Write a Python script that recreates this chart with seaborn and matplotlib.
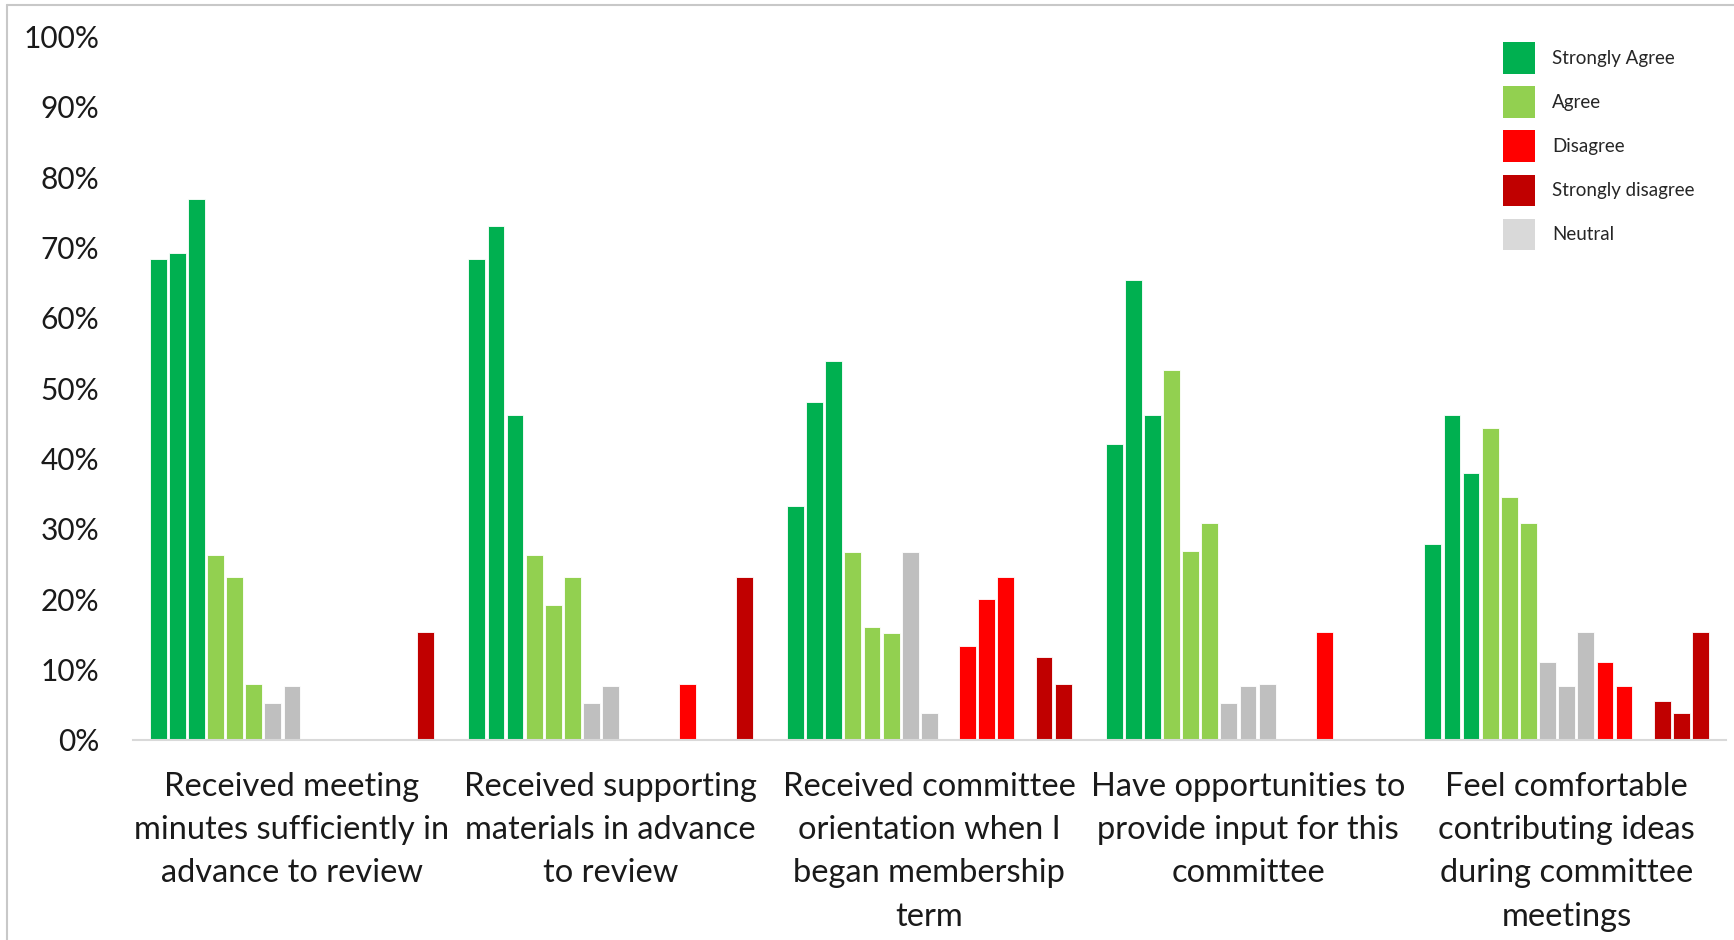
import numpy as np
import pandas as pd
import matplotlib.pyplot as plt
from matplotlib.patches import Patch
from matplotlib.lines import Line2D
from matplotlib.ticker import PercentFormatter
import seaborn as sns

# ── DATA ─────────────────────────────────────────────────────
categories = [
    "Received meeting\nminutes sufficiently in\nadvance to review",
    "Received supporting\nmaterials in advance\nto review",
    "Received committee\norientation when I\nbegan membership\nterm",
    "Have opportunities to\nprovide input for this\ncommittee",
    "Feel comfortable\ncontributing ideas\nduring committee\nmeetings",
]
waves = ["1", "2", "3"]

# percent, one row per category, one column per wave
strongly_agree = [
    [68.4, 69.2, 76.9],
    [68.4, 73.1, 46.2],
    [33.3, 48.0, 53.8],
    [42.1, 65.4, 46.2],
    [27.8, 46.2, 38.0],
]
agree = [
    [26.3, 23.1, 8.0],
    [26.3, 19.2, 23.1],
    [26.7, 16.0, 15.2],
    [52.6, 26.9, 30.8],
    [44.4, 34.6, 30.8],
]
neutral = [
    [5.3, 7.7, 0.0],
    [5.3, 7.7, 0.0],
    [26.7, 3.8, 0.0],
    [5.3, 7.7, 8.0],
    [11.1, 7.7, 15.4],
]
disagree = [
    [0.0, 0.0, 0.0],
    [0.0, 0.0, 8.0],
    [13.3, 20.0, 23.1],
    [0.0, 0.0, 15.4],
    [11.1, 7.7, 0.0],
]
strongly_disagree = [
    [0.0, 0.0, 15.4],
    [0.0, 0.0, 23.1],
    [0.0, 11.8, 8.0],
    [0.0, 0.0, 0.0],
    [5.6, 3.8, 15.4],
]

responses = ["Strongly Agree", "Agree", "Neutral", "Disagree", "Strongly disagree"]
bar_colors = {
    "Strongly Agree": "#00B050",
    "Agree": "#92D050",
    "Neutral": "#BFBFBF",
    "Disagree": "#FF0000",
    "Strongly disagree": "#C00000",
}

# ── LONG TABLE ───────────────────────────────────────────────
rows = []
for resp, vals in zip(responses, [strongly_agree, agree, neutral, disagree, strongly_disagree]):
    for ci, cat in enumerate(categories):
        for wi, w in enumerate(waves):
            rows.append({"category": cat, "series": f"{resp} {w}", "value": vals[ci][wi] / 100})
df = pd.DataFrame(rows)

hue_order = [f"{r} {w}" for r in responses for w in waves]
palette = [bar_colors[r] for r in responses for w in waves]

# ── PLOT ─────────────────────────────────────────────────────
sns.set_theme(style="white")
plt.rcParams["font.family"] = ["Lato", "DejaVu Sans"]

fig = plt.figure(figsize=(17.34, 9.40), dpi=100)
ax = fig.add_axes([0.0765, 0.2128, 0.9189, 0.7484])

sns.barplot(
    data=df, x="category", y="value",
    hue="series", hue_order=hue_order, order=categories,
    palette=palette, saturation=1, width=0.9, gap=0.12,
    edgecolor="white", linewidth=0.6,
    errorbar=None, legend=False, ax=ax
)

ax.set_ylim(0, 1.0)
ax.set_xlim(-0.5, len(categories) - 0.5)
ax.set_yticks(np.arange(0, 1.01, 0.1))
ax.yaxis.set_major_formatter(PercentFormatter(1.0, decimals=0))
ax.set_xlabel("")
ax.set_ylabel("")

for side in ["top", "right", "left"]:
    ax.spines[side].set_visible(False)
ax.spines["bottom"].set_color("#D9D9D9")
ax.spines["bottom"].set_linewidth(1.5)

ax.tick_params(axis="y", length=0, pad=24, labelsize=21.5, labelcolor="#1a1a1a")
ax.tick_params(axis="x", length=0, pad=23, labelsize=23.5, labelcolor="#1a1a1a")
for lab in ax.get_xticklabels():
    lab.set_linespacing(1.55)

# legend (neutral swatch is lighter than the bars in the original)
legend_colors = ["#00B050", "#92D050", "#FF0000", "#C00000", "#D9D9D9"]
legend_labels = ["Strongly Agree", "Agree", "Disagree", "Strongly disagree", "Neutral"]
handles = [Patch(facecolor=c, edgecolor="none") for c in legend_colors]
fig.legend(
    handles, legend_labels,
    loc="upper left", bbox_to_anchor=(0.867, 0.955),
    frameon=False, fontsize=13.5, labelcolor="#262626",
    handlelength=1.68, handleheight=2.21,
    labelspacing=0.67, handletextpad=0.9,
    borderpad=0, borderaxespad=0
)

# thin chart border (top and left visible in original)
fig.add_artist(Line2D([7 / 1734, 7 / 1734], [0, 1 - 5 / 940], color="#C8C8C8", linewidth=1.5))
fig.add_artist(Line2D([7 / 1734, 1], [1 - 5 / 940, 1 - 5 / 940], color="#C8C8C8", linewidth=1.5))

fig.savefig("out.png", dpi=100)
